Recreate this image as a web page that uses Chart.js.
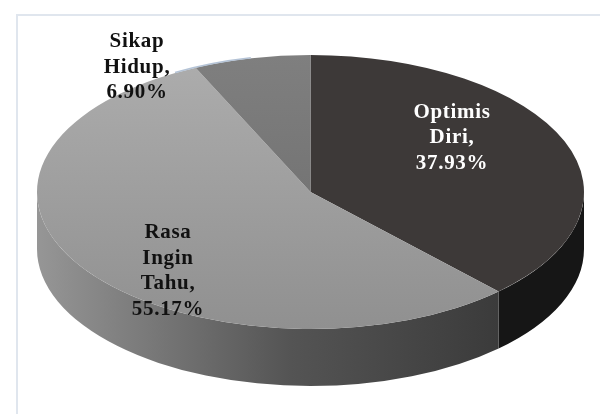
<!DOCTYPE html>
<html>
<head>
<meta charset="utf-8">
<style>
html, body { margin: 0; padding: 0; background: #fff; }
#wrap { position: relative; width: 600px; height: 414px; overflow: hidden; }
#frame { position: absolute; left: 16px; top: 14px; width: 584px; height: 400px; box-sizing: border-box; border-left: 2px solid #e0e6ee; border-top: 2px solid #e0e6ee; }
canvas { position: absolute; left: 0; top: 0; }
</style>
<script src="https://cdn.jsdelivr.net/npm/chart.js@4"></script>
</head>
<body>
<div id="wrap">
<div id="frame"></div>
<canvas id="pie" width="600" height="414"></canvas>
</div>
<script>
const categories = ['Optimis Diri', 'Rasa Ingin Tahu', 'Sikap Hidup']
const values = [37.93, 55.17, 6.90]
const valueLabels = ['37.93%', '55.17%', '6.90%']
const labelLines = [
    ['Optimis', 'Diri,', valueLabels[0]],
    ['Rasa', 'Ingin', 'Tahu,', valueLabels[1]],
    ['Sikap', 'Hidup,', valueLabels[2]]
]

// where the label blocks sit (first line y, line step 25.5)
const labelAt = [[452, 112.5], [168, 233], [137, 42]]

// the pie is drawn round, then stretched to this width
const rx = 273.5
const depth = 57

function stretch(chart) {
    return rx / chart.getDatasetMeta(0).data[0].outerRadius
}

const pie3d = {
    id: 'pie3d',
    beforeDatasetsDraw(chart) {
        let ctx = chart.ctx
        let arcs = chart.getDatasetMeta(0).data
        let cx = arcs[0].x
        let cy = arcs[0].y
        let ry = arcs[0].outerRadius

        // side wall, only the front half shows
        let wall = ctx.createLinearGradient(cx - rx, 0, 498, 0)
        wall.addColorStop(0, '#969696')
        wall.addColorStop(0.55, '#545454')
        wall.addColorStop(1, '#3b3b3b')
        let fills = ['#161616', wall, '#555555']
        arcs.forEach((a, i) => {
            let from = Math.max(a.startAngle, 0)
            let to = Math.min(a.endAngle, Math.PI)
            if (to <= from) return
            ctx.beginPath()
            ctx.ellipse(cx, cy, rx, ry, 0, from, to)
            ctx.ellipse(cx, cy + depth, rx, ry, 0, to, from, true)
            ctx.closePath()
            ctx.fillStyle = fills[i]
            ctx.fill()
        })

        ctx.save()
        ctx.translate(cx, 0)
        ctx.scale(stretch(chart), 1)
        ctx.translate(-cx, 0)
    },
    afterDatasetsDraw(chart) {
        let ctx = chart.ctx
        ctx.restore()

        let a = chart.getDatasetMeta(0).data[0]

        // thin pale edge along the back rim
        ctx.beginPath()
        ctx.ellipse(a.x, a.y - 0.5, rx, a.outerRadius, 0, Math.PI * 1.335, Math.PI * 1.43)
        ctx.strokeStyle = '#b4c3d6'
        ctx.lineWidth = 1.5
        ctx.stroke()

        ctx.font = 'bold 21px "Liberation Serif"'
        ctx.letterSpacing = '0.7px'
        ctx.textAlign = 'center'
        ctx.textBaseline = 'middle'
        labelLines.forEach((lines, i) => {
            ctx.fillStyle = i == 0 ? '#ffffff' : '#111111'
            lines.forEach((t, n) => {
                ctx.fillText(t, labelAt[i][0], labelAt[i][1] + n * 25.5)
            })
        })
    }
}

function grad(c, top, bottom) {
    let area = c.chart.chartArea
    if (!area) return top
    let g = c.chart.ctx.createLinearGradient(0, area.top, 0, area.bottom)
    g.addColorStop(0, top)
    g.addColorStop(1, bottom)
    return g
}

new Chart(document.getElementById('pie'), {
    type: 'pie',
    data: {
        labels: categories,
        datasets: [{
            data: values,
            borderWidth: 0,
            clip: false,
            backgroundColor: c => {
                if (c.dataIndex == 0) return '#3d3938'
                if (c.dataIndex == 1) return grad(c, '#adadad', '#909090')
                return grad(c, '#7f7f7f', '#6a6a6a')
            }
        }]
    },
    options: {
        responsive: false,
        animation: false,
        layout: { padding: { left: 37, right: 16, top: 55, bottom: 85 } },
        plugins: { legend: { display: false }, tooltip: { enabled: false } }
    },
    plugins: [pie3d]
})
</script>
</body>
</html>
